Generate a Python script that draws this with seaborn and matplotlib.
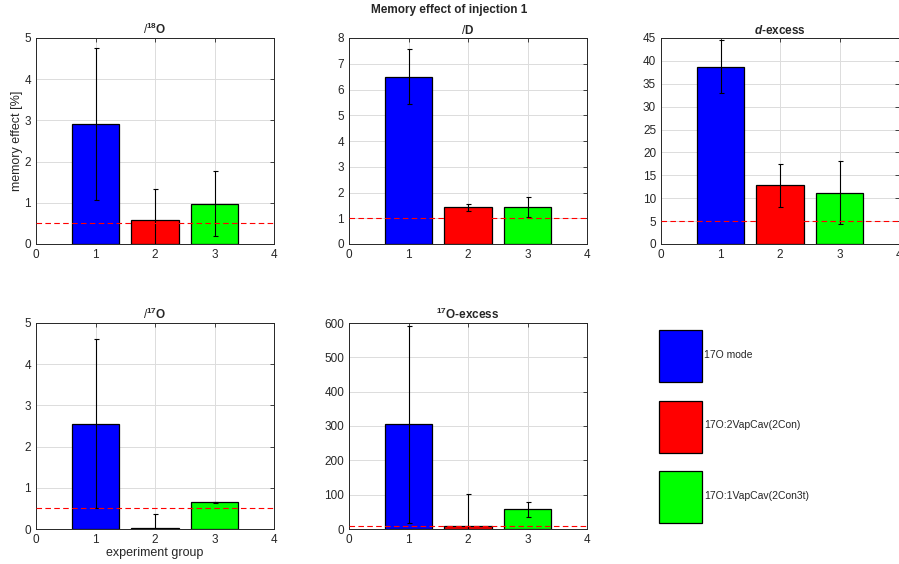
"""
Memory effect of injection 1 - bar charts per isotope quantity.
"""

import matplotlib
matplotlib.use("Agg")

import numpy as np
import pandas as pd
import matplotlib.pyplot as plt
from matplotlib.patches import Patch
import seaborn as sns

GROUPS = [1, 2, 3]
GROUP_NAMES = ["17O mode", "17O:2VapCav(2Con)", "17O:1VapCav(2Con3t)"]
BAR_COLORS = ["#0000ff", "#ff0000", "#00ff00"]

TITLES = [
    r"$\mathrm{/}^{\mathbf{18}}$O",
    r"$\mathrm{/}$D",
    r"$\mathbfit{d}$-excess",
    r"$\mathrm{/}^{\mathbf{17}}$O",
    r"$^{\mathbf{17}}$O-excess",
]

D18O_MEAN = [2.92, 0.58, 0.98]
D18O_ERR = [1.84, 0.76, 0.78]
DD_MEAN = [6.50, 1.42, 1.45]
DD_ERR = [1.06, 0.13, 0.39]
DEXC_MEAN = [38.7, 12.8, 11.2]
DEXC_ERR = [5.8, 4.65, 6.9]
D17O_MEAN = [2.55, 0.03, 0.65]
D17O_ERR = [2.05, 0.34, 0.01]
O17EXC_MEAN = [305.0, 10.0, 57.0]
O17EXC_ERR = [287.0, 92.0, 21.0]

THRESHOLDS = [0.5, 1.0, 5.0, 0.5, 10.0]
Y_LIMITS = [(0, 5), (0, 8), (0, 45), (0, 5), (0, 600)]
Y_STEPS = [1, 1, 5, 1, 100]

MEANS = [D18O_MEAN, DD_MEAN, DEXC_MEAN, D17O_MEAN, O17EXC_MEAN]
ERRORS = [D18O_ERR, DD_ERR, DEXC_ERR, D17O_ERR, O17EXC_ERR]

W, H = 899, 564
AX_W, AX_H = 238, 206
LEFTS = [36, 349, 661, 36, 349]
BOTTOMS = [244, 244, 244, 529, 529]


def draw_panel(ax, means, errors, title, threshold, ylim, ystep):
    frame = pd.DataFrame({"group": GROUPS, "value": means})
    sns.barplot(
        data=frame, x="group", y="value", hue="group",
        palette=BAR_COLORS, native_scale=True, width=0.8,
        saturation=1, errorbar=None, legend=False, edgecolor="black",
        linewidth=0.9, ax=ax, zorder=3,
    )
    ax.errorbar(
        GROUPS, means, yerr=errors, fmt="none", ecolor="black",
        elinewidth=0.8, capsize=1.8, capthick=0.8, zorder=4,
    )
    ax.axhline(threshold, color="red", linestyle=(0, (5, 3)),
               linewidth=0.8, zorder=5)
    ax.set_xlim(0, 4)
    ax.set_ylim(*ylim)
    ax.set_xticks(np.arange(0, 5))
    ax.set_yticks(np.arange(ylim[0], ylim[1] + ystep / 2, ystep))
    ax.set_xlabel("")
    ax.set_ylabel("")
    ax.set_title(title, fontsize=8.5, fontweight="bold", pad=3)
    ax.grid(True, color="#dcdcdc", linewidth=0.7, zorder=0)
    ax.set_axisbelow(True)
    ax.tick_params(direction="in", top=True, right=True, length=3,
                   labelsize=8.5, colors="#262626", width=0.6)
    for spine in ax.spines.values():
        spine.set_color("#262626")
        spine.set_linewidth(0.7)


def main() -> None:
    sns.set_style("white")
    plt.rcParams["font.family"] = ["Liberation Sans", "DejaVu Sans"]
    plt.rcParams["mathtext.fontset"] = "custom"
    plt.rcParams["mathtext.rm"] = "Liberation Sans"
    plt.rcParams["mathtext.bf"] = "Liberation Sans:bold"
    plt.rcParams["mathtext.it"] = "Liberation Sans:italic"
    plt.rcParams["mathtext.bfit"] = "Liberation Sans:bold:italic"

    fig = plt.figure(figsize=(W / 100, H / 100), dpi=100)

    axes = []
    for i in range(5):
        ax = fig.add_axes([LEFTS[i] / W, (H - BOTTOMS[i]) / H, AX_W / W, AX_H / H])
        draw_panel(ax, MEANS[i], ERRORS[i], TITLES[i], THRESHOLDS[i],
                   Y_LIMITS[i], Y_STEPS[i])
        axes.append(ax)

    axes[0].set_ylabel("memory effect [%]", fontsize=9, labelpad=1, color="#262626")
    axes[3].set_xlabel("experiment group", fontsize=9, labelpad=1, color="#262626")

    fig.suptitle("Memory effect of injection 1", x=0.5, y=0.993,
                 fontsize=8.5, fontweight="bold", va="top")

    handles = [Patch(facecolor=c, edgecolor="black", linewidth=0.9)
               for c in BAR_COLORS]
    fig.legend(
        handles, GROUP_NAMES, loc="upper left",
        bbox_to_anchor=(650 / W, (H - 321) / H), frameon=False,
        fontsize=7.5, handlelength=4.1, handleheight=7.3,
        labelspacing=1.75, handletextpad=0.2,
    )

    fig.savefig("out.png", dpi=100)


if __name__ == "__main__":
    main()
